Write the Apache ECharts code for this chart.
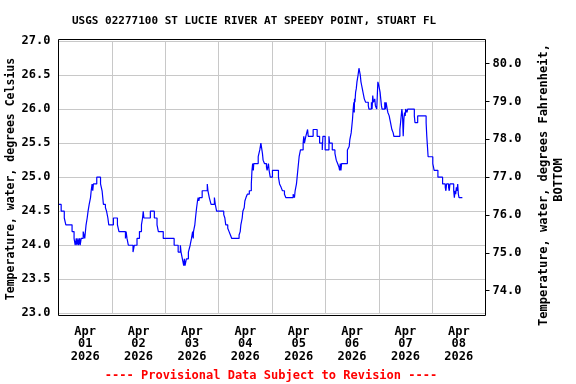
<!DOCTYPE html>
<html><head><meta charset="utf-8">
<script src="https://cdn.jsdelivr.net/npm/echarts@6/dist/echarts.min.js"></script>
<style>html,body{margin:0;padding:0;background:#fff}#c{width:576px;height:384px}</style>
</head><body><div id="c"></div>
<script>
const chartTitle = 'USGS 02277100 ST LUCIE RIVER AT SPEEDY POINT, STUART FL';
const leftAxisTitle = 'Temperature, water, degrees Celsius';
const rightAxisTitle1 = 'Temperature, water, degrees Fahrenheit,';
const rightAxisTitle2 = 'BOTTOM';
const footerText = '---- Provisional Data Subject to Revision ----';
const dayLabels = ['Apr\n01\n2026','Apr\n02\n2026','Apr\n03\n2026','Apr\n04\n2026','Apr\n05\n2026','Apr\n06\n2026','Apr\n07\n2026','Apr\n08\n2026'];
const fahrenheitTicks = [74, 75, 76, 77, 78, 79, 80];
// hours since 2026-04-01 00:00
const hours = [
 0,1.2,2.6,3.3,6.1,7.0,7.5,8.0,8.25,8.75,9.0,9.5,9.75,10.2,11.1,11.8,12.1,12.4,12.9,13.3,13.8,14.4,14.7,15.1,15.4,15.7,17.2,18.9,19.6,20.2,21.1,21.6,22.2,22.6,24.7,26.5,27.2,30.1,30.4,30.8,31.4,33.5,34.1,35.3,36.4,37.3,37.8,38.1,38.4,41.3,43.1,44.3,44.9,47.1,
 52.0,53.8,54.8,55.1,55.7,56.3,56.6,56.9,57.5,58.4,59.2,59.8,60.3,60.6,60.7,61.0,61.3,61.6,62.1,62.5,62.8,63.1,63.4,64.6,66.9,67.2,67.8,68.6,70.1,70.5,71.1,74.3,74.8,75.2,76.1,76.7,77.3,77.9,81.2,81.7,82.0,82.6,82.9,83.5,83.8,
 84.3,84.9,85.8,86.7,87.0,87.3,87.6,87.8,89.8,90.5,91.0,91.7,92.0,92.6,93.5,93.8,94.1,94.4,94.7,95.2,96.2,98.9,99.4,100.1,100.7,101.6,102.2,105.5,106.1,106.4,107.0,107.3,107.9,108.2,108.8,110.0,110.3,110.6,111.2,112.0,112.3,114.5,116.3,117.4,118.6,118.9,119.9,121.6,121.9,123.1,124.3,124.9,125.5,126.1,126.4,126.7,127.0,127.3,129.9,
 130.7,131.0,131.6,131.9,132.2,132.5,132.8,133.0,133.1,133.3,133.5,133.6,133.9,134.2,134.7,135.1,135.7,136.0,136.3,136.6,136.9,137.5,138.1,139.3,139.6,140.7,141.0,141.3,141.6,142.2,142.5,143.1,143.6,144.0,144.3,144.6,144.9,145.2,145.5,146.7,147.0,147.3,147.8,148.1,148.7,149.0,149.3,149.6,149.9,150.5,150.8,153.5,153.8,154.1,154.4,154.7,155.0,155.3,155.6,155.9,156.1,156.7,157.0,160.0,160.3,161.5,165.3,165.6,165.9,166.2,168.3,168.6,168.9,170.6,172.7,173.9,174.2,174.5,175.4,175.7,176.0,177.7,178.0,178.3,178.6,178.9,179.2,179.5,179.8,180.1,181.6
];
const tempC = [
 24.6,24.5,24.4,24.3,24.2,24.1,24.0,24.1,24.0,24.1,24.0,24.1,24.0,24.1,24.2,24.1,24.2,24.3,24.4,24.5,24.6,24.7,24.8,24.9,24.8,24.9,25.0,24.9,24.8,24.6,24.55,24.5,24.4,24.3,24.4,24.3,24.2,24.1,24.2,24.1,24.0,23.9,24.0,24.1,24.2,24.3,24.4,24.5,24.4,24.5,24.4,24.3,24.2,24.1,
 24.0,23.9,24.0,23.9,23.8,23.7,23.8,23.7,23.8,23.9,24.0,24.1,24.2,24.1,24.2,24.25,24.3,24.4,24.55,24.65,24.7,24.65,24.7,24.8,24.9,24.8,24.7,24.6,24.7,24.6,24.5,24.45,24.4,24.3,24.25,24.2,24.15,24.1,24.15,24.2,24.3,24.4,24.5,24.55,24.65,
 24.7,24.75,24.8,24.9,25.1,25.2,25.1,25.2,25.3,25.4,25.5,25.35,25.25,25.2,25.15,25.1,25.15,25.2,25.1,25.0,25.1,25.0,24.9,24.85,24.8,24.75,24.7,24.75,24.7,24.8,24.9,25.0,25.2,25.3,25.4,25.5,25.6,25.5,25.6,25.7,25.6,25.7,25.6,25.5,25.4,25.6,25.4,25.6,25.5,25.4,25.35,25.25,25.2,25.15,25.1,25.2,25.1,25.2,25.4,
 25.45,25.55,25.65,25.75,25.85,26.0,26.1,25.95,26.15,26.1,26.2,26.25,26.3,26.4,26.5,26.6,26.5,26.4,26.35,26.3,26.25,26.15,26.1,26.05,26.0,26.1,26.0,26.2,26.1,26.15,26.05,26.0,26.4,26.35,26.3,26.25,26.15,26.05,26.0,26.1,26.0,26.1,26.0,25.95,25.9,25.85,25.8,25.75,25.7,25.65,25.6,25.7,25.8,25.9,26.0,25.9,25.6,25.85,25.95,25.9,26.0,25.95,26.0,25.9,25.8,25.9,25.8,25.6,25.45,25.3,25.2,25.15,25.1,25.0,24.9,24.85,24.8,24.9,24.85,24.8,24.9,24.8,24.7,24.8,24.75,24.85,24.8,24.9,24.75,24.7,24.7
];

const FONT = 'DejaVu Sans Mono';
const seriesData = hours.map((h, i) => [h, tempC[i]]);
const chart = echarts.init(document.getElementById('c'), null, {renderer: 'canvas'});
chart.setOption({
  animation: false,
  backgroundColor: '#ffffff',
  title: {
    text: chartTitle, left: 72, top: 16, padding: 0,
    textStyle: {fontFamily: FONT, fontSize: 11, fontWeight: 'bold', color: '#000'}
  },
  grid: {left: 58.5, right: 90.5, top: 41, bottom: 70.7, containLabel: false},
  xAxis: [
    {type: 'value', min: 0, max: 192, interval: 24, position: 'bottom',
     axisLine: {show: false, onZero: false}, axisTick: {show: false}, axisLabel: {show: false},
     splitLine: {show: true, lineStyle: {color: '#c8c8c8', width: 1}}},
    {type: 'value', min: 0, max: 192, interval: 12, position: 'bottom',
     axisLine: {show: false, onZero: false}, axisTick: {show: false}, splitLine: {show: false},
     axisLabel: {show: true, margin: 12, interval: 0, lineHeight: 12.5, hideOverlap: false,
       fontFamily: FONT, fontSize: 12, fontWeight: 'bold', color: '#000', align: 'center',
       formatter: v => (v % 24 === 12) ? dayLabels[(v - 12) / 24] : ''}}
  ],
  yAxis: [
    {type: 'value', min: 23, max: 27, interval: 0.5, position: 'left',
     axisLine: {show: false, onZero: false}, axisTick: {show: false},
     splitLine: {show: true, lineStyle: {color: '#c8c8c8', width: 1}},
     axisLabel: {margin: 8, fontFamily: FONT, fontSize: 12, fontWeight: 'bold', color: '#000',
       formatter: v => v.toFixed(1)}},
    {type: 'value', min: 73.4, max: 80.6, position: 'right',
     axisLine: {show: true, onZero: false, lineStyle: {color: '#000', width: 1}}, splitLine: {show: false},
     axisTick: {show: true, length: 4, customValues: fahrenheitTicks, lineStyle: {color: '#000', width: 1}},
     axisLabel: {margin: 7, customValues: fahrenheitTicks, fontFamily: FONT, fontSize: 12, fontWeight: 'bold', color: '#000',
       formatter: v => Number(v).toFixed(1)}}
  ],
  series: [{
    type: 'line', xAxisIndex: 0, yAxisIndex: 0, data: seriesData, step: 'end',
    showSymbol: false, symbol: 'none',
    lineStyle: {color: '#0000ff', width: 1.2}, z: 3
  }],
  graphic: [
    {type: 'rect', z: 100, silent: true,
     shape: {x: 58.5, y: 39.5, width: 427, height: 276},
     style: {fill: 'none', stroke: '#000', lineWidth: 1}},
    {type: 'text', x: 11, y: 179, rotation: Math.PI / 2,
     style: {text: leftAxisTitle, fontFamily: FONT, fontSize: 11.5, fontWeight: 'bold', fill: '#000', align: 'center', verticalAlign: 'middle'}},
    {type: 'text', x: 544, y: 185, rotation: Math.PI / 2,
     style: {text: rightAxisTitle1, fontFamily: FONT, fontSize: 12, fontWeight: 'bold', fill: '#000', align: 'center', verticalAlign: 'middle'}},
    {type: 'text', x: 559, y: 180, rotation: Math.PI / 2,
     style: {text: rightAxisTitle2, fontFamily: FONT, fontSize: 12, fontWeight: 'bold', fill: '#000', align: 'center', verticalAlign: 'middle'}},
    {type: 'text', x: 271, y: 376,
     style: {text: footerText, fontFamily: FONT, fontSize: 12, fontWeight: 'bold', fill: '#ff0000', align: 'center', verticalAlign: 'middle'}}
  ]
});
</script></body></html>
